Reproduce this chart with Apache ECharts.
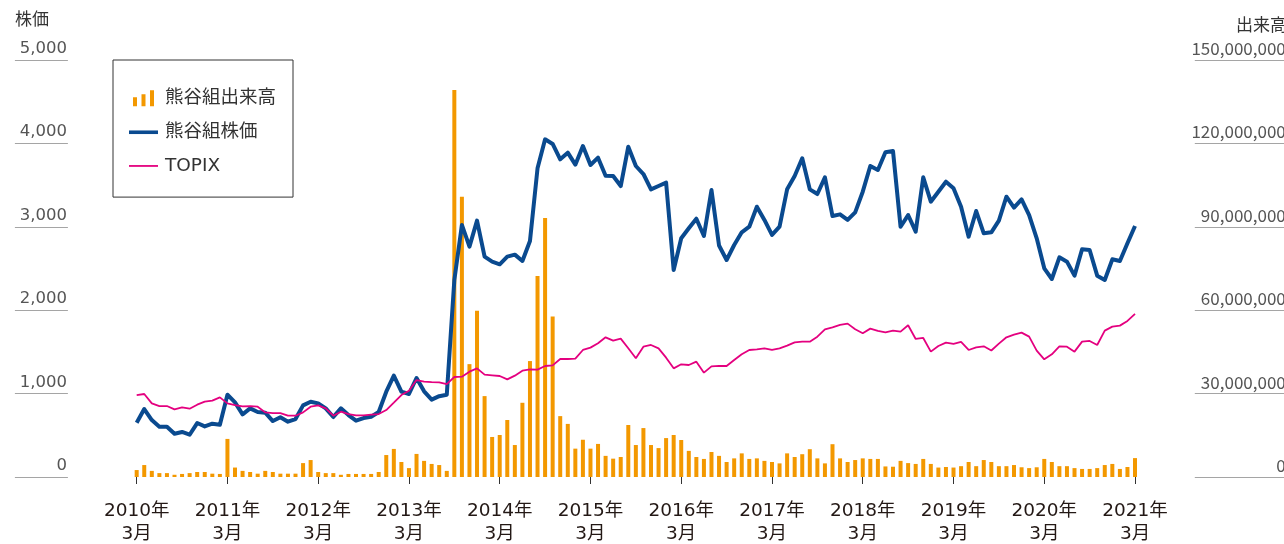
<!DOCTYPE html>
<html>
<head>
<meta charset="utf-8">
<title>株価・出来高</title>
<script src="https://cdn.jsdelivr.net/npm/echarts@6/dist/echarts.min.js"></script>
<style>
  html, body { margin: 0; padding: 0; background: #fff; }
  #chart { width: 1284px; height: 544px; }
</style>
</head>
<body>
<div id="chart"></div>
<script>
// 2010年3月〜2021年3月 月次
const startYear = 2010
const startMonth = 3
const monthCount = 133

// 熊谷組 株価（円）
const priceData = [
  650, 815, 683, 603, 603, 519, 540, 507, 647, 607, 639, 627,
  987, 895, 751, 823, 779, 771, 671, 716, 663, 695, 859, 903,
  883, 823, 719, 823, 743, 675, 707, 723, 779, 1023, 1215, 1023,
  995, 1187, 1027, 927, 969, 987, 2362, 3022, 2762, 3074, 2642, 2582,
  2550, 2642, 2666, 2590, 2830, 3701, 4049, 3993, 3809, 3889, 3745, 3969,
  3741, 3829, 3613, 3609, 3489, 3961, 3729, 3633, 3449, 3489, 3529, 2482,
  2862, 2982, 3097, 2890, 3441, 2776, 2602, 2782, 2934, 3001, 3241, 3082,
  2902, 3001, 3449, 3609, 3821, 3449, 3393, 3593, 3129, 3149, 3082, 3173,
  3421, 3729, 3681, 3893, 3909, 3001, 3141, 2942, 3593, 3301, 3421, 3541,
  3461, 3241, 2882, 3189, 2922, 2934, 3074, 3361, 3229, 3329, 3141, 2862,
  2502, 2374, 2634, 2582, 2414, 2730, 2722, 2414, 2362, 2610, 2590, 2802,
  3010
]

// TOPIX
const topixData = [
  983, 995, 883, 851, 851, 811, 835, 819, 867, 903, 915, 955,
  883, 863, 847, 851, 843, 775, 767, 767, 735, 735, 775, 843,
  859, 823, 735, 783, 755, 739, 739, 747, 755, 803, 891, 983,
  1035, 1163, 1143, 1137, 1135, 1113, 1199, 1203, 1263, 1303, 1227, 1219,
  1211, 1171, 1215, 1275, 1291, 1287, 1331, 1339, 1415, 1415, 1419, 1523,
  1551, 1603, 1675, 1635, 1659, 1543, 1423, 1563, 1583, 1543, 1431, 1303,
  1351, 1343, 1383, 1251, 1327, 1333, 1331, 1403, 1471, 1523, 1531, 1543,
  1523, 1543, 1575, 1615, 1623, 1623, 1683, 1771, 1795, 1823, 1839, 1771,
  1723, 1779, 1751, 1735, 1755, 1743, 1819, 1655, 1667, 1503, 1571, 1611,
  1595, 1619, 1523, 1555, 1567, 1517, 1599, 1675, 1707, 1731, 1683, 1515,
  1411, 1471, 1567, 1563, 1503, 1623, 1631, 1583, 1755, 1803, 1815, 1871,
  1955
]

// 熊谷組 出来高（株）
const volumeData = [
  2500000, 4300000, 2200000, 1400000, 1400000, 800000, 1100000, 1400000, 1800000, 1800000, 1200000, 1100000,
  13700000, 3400000, 2200000, 1800000, 1200000, 2200000, 1800000, 1200000, 1200000, 1200000, 5000000, 6100000,
  1800000, 1400000, 1400000, 800000, 1100000, 1100000, 1100000, 1100000, 1800000, 7900000, 10100000, 5400000,
  3200000, 8300000, 5800000, 4700000, 4300000, 2200000, 139200000, 100800000, 40600000, 59800000, 29100000, 14400000,
  15100000, 20500000, 11500000, 26700000, 41700000, 72300000, 93200000, 57700000, 21900000, 19100000, 10200000, 13400000,
  10200000, 11900000, 7600000, 6600000, 7200000, 18700000, 11500000, 17600000, 11500000, 10400000, 14000000, 15100000,
  13300000, 9400000, 7200000, 6500000, 9000000, 7600000, 5400000, 6700000, 8500000, 6500000, 6700000, 5800000,
  5400000, 4900000, 8500000, 7200000, 8200000, 10000000, 6700000, 4900000, 11800000, 6700000, 5400000, 6100000,
  6700000, 6500000, 6500000, 3800000, 3700000, 5800000, 5000000, 4700000, 6500000, 4700000, 3400000, 3600000,
  3400000, 3900000, 5400000, 3900000, 6100000, 5400000, 3900000, 3900000, 4300000, 3500000, 3200000, 3500000,
  6500000, 5400000, 3900000, 3900000, 3200000, 2900000, 2900000, 3200000, 4300000, 4700000, 2900000, 3600000,
  6800000
]

const months = []
for (let i = 0; i < monthCount; i++) {
  const m = startMonth - 1 + i
  months.push((startYear + Math.floor(m / 12)) + '年\n' + (m % 12 + 1) + '月')
}

const numFont = "'DejaVu Sans', 'Noto Sans CJK JP', sans-serif"
const jpFont = "'Noto Sans CJK JP', sans-serif"

const chart = echarts.init(document.getElementById('chart'))

chart.setOption({
  animation: false,
  backgroundColor: '#fff',
  title: [
    {
      text: '株価',
      left: 15,
      top: 10,
      padding: 0,
      textStyle: { fontFamily: jpFont, fontSize: 17, fontWeight: 'normal', color: '#333' }
    },
    {
      text: '出来高',
      right: -3,
      top: 16,
      padding: 0,
      textStyle: { fontFamily: jpFont, fontSize: 17, fontWeight: 'normal', color: '#333' }
    }
  ],
  legend: {
    orient: 'vertical',
    left: 113,
    top: 60,
    itemWidth: 29,
    itemHeight: 16,
    itemGap: 15.3,
    padding: [29, 17, 22, 16],
    borderColor: '#333',
    borderWidth: 1,
    textStyle: { fontFamily: numFont, fontSize: 18.5, lineHeight: 18, color: '#333', padding: [0, 0, 0, 2] },
    data: [
      { name: '熊谷組出来高', icon: 'path://M0,0M29,16M4,7h4v9h-4zM12.5,4h4v12h-4zM21,0h4v16h-4z' },
      { name: '熊谷組株価', icon: 'path://M0,0M29,16M0,6.4h29v3.6h-29z' },
      { name: 'TOPIX', icon: 'path://M0,0M29,16M0,7.2h29v1.8h-29z' }
    ]
  },
  grid: {
    left: 132.9,
    right: 145.2,
    top: 60,
    bottom: 67,
    outerBoundsMode: 'none'
  },
  xAxis: {
    type: 'category',
    data: months,
    boundaryGap: true,
    offset: 8,
    axisLine: { show: false },
    axisTick: {
      show: true,
      interval: 11,
      alignWithLabel: true,
      length: 7,
      lineStyle: { color: '#333', width: 1 }
    },
    axisLabel: {
      interval: 11,
      margin: 15,
      fontFamily: numFont,
      fontSize: 18.5,
      lineHeight: 23,
      color: '#231815'
    },
    splitLine: { show: false }
  },
  yAxis: [
    {
      type: 'value',
      position: 'left',
      min: 0,
      max: 5000,
      interval: 1000,
      offset: 65,
      axisLine: { show: false },
      axisTick: { show: true, length: 53, lineStyle: { color: '#a5a5a5', width: 1 } },
      axisLabel: {
        margin: 1,
        align: 'right',
        verticalAlign: 'bottom',
        padding: [0, 0, 3, 0],
        fontFamily: numFont,
        fontSize: 16.5,
        color: '#555',
        formatter: v => echarts.format.addCommas(v)
      },
      splitLine: { show: false }
    },
    {
      type: 'value',
      position: 'right',
      min: 0,
      max: 150000000,
      interval: 30000000,
      offset: 56,
      axisLine: { show: false },
      axisTick: { show: true, length: 92, lineStyle: { color: '#a5a5a5', width: 1 } },
      axisLabel: {
        margin: 91,
        align: 'right',
        verticalAlign: 'bottom',
        padding: [0, 0, 3, 0],
        fontFamily: jpFont,
        fontSize: 17,
        color: '#555',
        formatter: v => echarts.format.addCommas(v)
      },
      splitLine: { show: false }
    }
  ],
  series: [
    {
      name: '熊谷組出来高',
      type: 'bar',
      yAxisIndex: 1,
      barWidth: 4,
      itemStyle: { color: '#f39800' },
      data: volumeData
    },
    {
      name: '熊谷組株価',
      type: 'line',
      yAxisIndex: 0,
      symbol: 'none',
      lineStyle: { color: '#0a4a8f', width: 4, join: 'round' },
      itemStyle: { color: '#0a4a8f' },
      data: priceData
    },
    {
      name: 'TOPIX',
      type: 'line',
      yAxisIndex: 0,
      symbol: 'none',
      lineStyle: { color: '#e4007f', width: 1.8 },
      itemStyle: { color: '#e4007f' },
      data: topixData
    }
  ]
})
</script>
</body>
</html>
